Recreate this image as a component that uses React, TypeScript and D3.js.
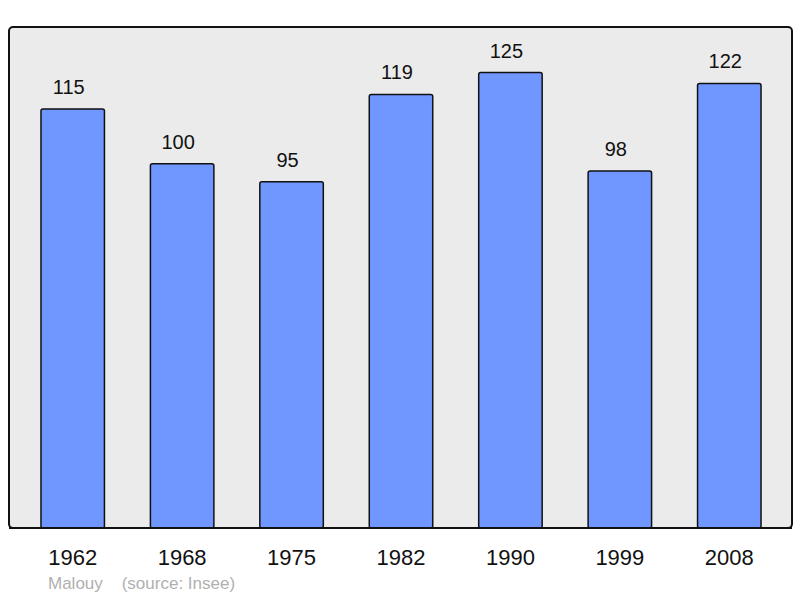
import React from 'react'
import * as d3 from 'd3'

const years = ['1962', '1968', '1975', '1982', '1990', '1999', '2008']
const population = [115, 100, 95, 119, 125, 98, 122]
const sourceLabel = 'Malouy    (source: Insee)'

const width = 800
const height = 598
const frame = { left: 9, top: 27, right: 792, bottom: 528 }

const App = () => {
    /* band scale for the years, linear scale for population */
    const xScale = d3
        .scaleBand<string>()
        .domain(years)
        .range([18, 784])
        .paddingInner(0.42)
        .paddingOuter(0.21)
    const yScale = d3
        .scaleLinear()
        .domain([0, (d3.max(population) as number) * 1.1])
        .range([frame.bottom, frame.top])

    const bars = years.map((y, i) => ({
        year: y,
        value: population[i],
        x: xScale(y) as number,
        y: yScale(population[i]),
        w: xScale.bandwidth(),
    }))

    return (
        <svg
            width={width}
            height={height}
            style={{ position: 'absolute', left: 0, top: 0 }}
            fontFamily="'Liberation Sans', Arial, sans-serif"
        >
            {/* background frame */}
            <rect
                x={frame.left}
                y={frame.top}
                width={frame.right - frame.left}
                height={frame.bottom - frame.top}
                rx={4}
                fill="#ebebeb"
                stroke="#111"
                strokeWidth={2}
            />
            {/* bars */}
            {bars.map((d) => (
                <rect
                    key={d.year}
                    x={d.x}
                    y={d.y}
                    width={d.w}
                    height={frame.bottom - d.y}
                    rx={2}
                    fill="#7096ff"
                    stroke="#111"
                    strokeWidth={1.5}
                />
            ))}
            {/* frame bottom line on top of bars */}
            <line
                x1={frame.left}
                x2={frame.right}
                y1={frame.bottom}
                y2={frame.bottom}
                stroke="#111"
                strokeWidth={2}
            />
            {/* value labels, sitting a little left of bar centre */}
            {bars.map((d) => (
                <text
                    key={d.year}
                    x={d.x + d.w / 2 - 4}
                    y={d.y - 15}
                    textAnchor="middle"
                    fontSize="20px"
                    fill="#111"
                >
                    {d.value}
                </text>
            ))}
            {/* year labels */}
            {bars.map((d) => (
                <text
                    key={d.year}
                    x={d.x + d.w / 2}
                    y={565}
                    textAnchor="middle"
                    fontSize="22px"
                    fill="#111"
                >
                    {d.year}
                </text>
            ))}
            <text x={48} y={589} fontSize="17px" fill="#b0b0b0" style={{ whiteSpace: 'pre' }}>
                {sourceLabel}
            </text>
        </svg>
    )
}

export default App
